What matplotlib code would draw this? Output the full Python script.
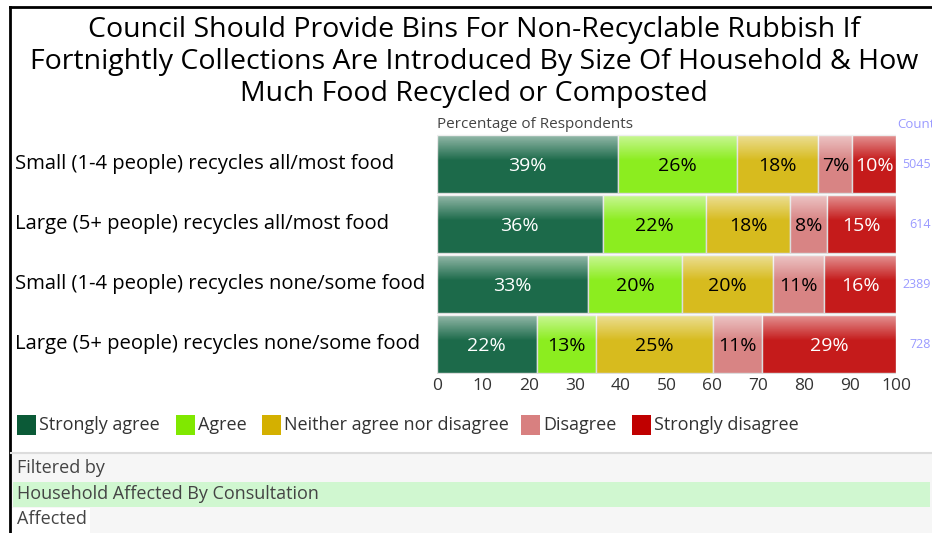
import matplotlib
matplotlib.use("Agg")
import matplotlib.pyplot as plt
import numpy as np
from matplotlib.patches import Rectangle

W, H = 932, 533
FONT = "Open Sans"
plt.rcParams['font.family'] = [FONT, 'DejaVu Sans']

title = ("Council Should Provide Bins For Non-Recyclable Rubbish If\n"
         "Fortnightly Collections Are Introduced By Size Of Household & How\n"
         "Much Food Recycled or Composted")
categories = ["Small (1-4 people) recycles all/most food",
              "Large (5+ people) recycles all/most food",
              "Small (1-4 people) recycles none/some food",
              "Large (5+ people) recycles none/some food"]
series = ["Strongly agree", "Agree", "Neither agree nor disagree", "Disagree", "Strongly disagree"]
strongly_agree = [39.4, 36.1, 33.0, 21.7]
agree = [25.9, 22.5, 20.4, 13.0]
neither = [17.8, 18.3, 19.9, 25.4]
disagree = [7.4, 8.1, 11.1, 10.8]
strongly_disagree = [9.5, 15.0, 15.6, 29.1]
counts = [5045, 614, 2389, 728]
xticks = [0, 10, 20, 30, 40, 50, 60, 70, 80, 90, 100]

bar_colors = ["#1c6a4a", "#8ced1f", "#d7bb1e", "#d88484", "#c51b1b"]
legend_colors = ["#0b5a37", "#80e800", "#d4b000", "#d88080", "#c00000"]
text_colors = ["white", "black", "black", "black", "white"]

fig = plt.figure(figsize=(W / 100, H / 100), dpi=100)

def fx(px):
    return px / W

def fy(py):
    return 1 - py / H

# border lines
fig.add_artist(plt.Line2D([fx(9.5), fx(9.5)], [fy(7), fy(533)], color="black", lw=2))
fig.add_artist(plt.Line2D([fx(9.5), fx(932)], [fy(7), fy(7)], color="black", lw=2))

# bottom filter panel
fig.add_artist(Rectangle((fx(11), 0), fx(932) - fx(11), fy(453), color="#f6f6f6", lw=0, zorder=0))
fig.add_artist(plt.Line2D([fx(11), fx(932)], [fy(453), fy(453)], color="#dcdcdc", lw=1.5))
fig.add_artist(Rectangle((fx(13), fy(507)), fx(930) - fx(13), fy(482) - fy(507), color="#d0f7d0", lw=0))
fig.add_artist(Rectangle((fx(11), 0), fx(90) - fx(11), fy(508), color="white", lw=0))
fig.text(fx(17), fy(468), "Filtered by", fontsize=13, color="#444444", va="center")
fig.text(fx(17), fy(494), "Household Affected By Consultation", fontsize=13, color="#444444", va="center")
fig.text(fx(17), fy(519), "Affected", fontsize=13, color="#444444", va="center")

# title
fig.text(fx(474), fy(62), title, ha="center", va="center", fontsize=20.5, color="black", linespacing=1.2)

ax = fig.add_axes([fx(437), fy(374), fx(896) - fx(437), fy(134) - fy(374)])
y = np.arange(len(categories))
data = [strongly_agree, agree, neither, disagree, strongly_disagree]
h = 0.97
left = np.zeros(len(categories))
grad = np.linspace(0, 1, 100).reshape(-1, 1)
alpha_grad = np.clip(0.55 * (1 - grad / 0.45), 0, 0.55)
white_img = np.ones((100, 1, 4))
white_img[..., 3] = alpha_grad
for vals, col, tcol in zip(data, bar_colors, text_colors):
    vals = np.array(vals)
    ax.barh(y, vals, left=left, height=h, color=col, edgecolor="#dddddd", linewidth=1, zorder=2)
    for yi, v, l in zip(y, vals, left):
        ax.imshow(white_img, extent=(l, l + v, yi + h / 2, yi - h / 2), aspect="auto",
                  interpolation="bilinear", zorder=3)
        ax.text(l + v / 2, yi + 0.03, f"{round(v):d}%", ha="center", va="center",
                fontsize=14, color=tcol, zorder=4)
    left += vals
ax.set_xlim(0, 100)
ax.set_ylim(len(categories) - 0.5, -0.5)
ax.set_yticks(y)
ax.set_yticklabels([])
ax.set_xticks(xticks)
ax.set_xticklabels([str(t) for t in xticks], fontsize=12.5, color="#333333")
ax.tick_params(length=0, pad=3)
for s in ax.spines.values():
    s.set_visible(False)

for yi, lab, c in zip(y, categories, counts):
    fig.text(fx(15), fy(164.5 + 60 * yi), lab, ha="left", va="center", fontsize=14.6, color="black")
    fig.text(fx(931), fy(164.5 + 60 * yi), str(c), ha="right", va="center", fontsize=9, color="#9a9aff")

fig.text(fx(437), fy(125), "Percentage of Respondents", ha="left", va="center", fontsize=11, color="#444444")
fig.text(fx(897), fy(125), "Count", ha="left", va="center", fontsize=9.5, color="#9a9aff")

# legend
positions = [17, 176, 262, 521, 632]
for xp, lab, col in zip(positions, series, legend_colors):
    fig.add_artist(Rectangle((fx(xp), fy(435)), fx(19) - fx(0), fy(415) - fy(435), color=col, lw=0))
    fig.text(fx(xp + 22), fy(425), lab, ha="left", va="center", fontsize=13, color="#333333")

fig.savefig("out.png", dpi=100)
